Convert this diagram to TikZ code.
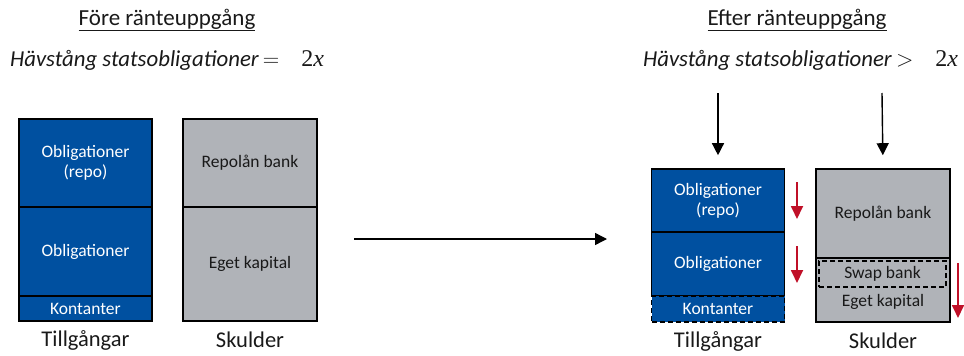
\RequirePackage{fix-cm}
\documentclass[tikz,border=0pt]{standalone}
\usepackage{fontspec}
\setmainfont{Carlito}
\newfontfamily\mathlike{Liberation Serif}
\usetikzlibrary{arrows.meta}
\definecolor{assetblue}{RGB}{0,80,160}
\definecolor{liabgray}{RGB}{176,179,184}
\definecolor{downred}{RGB}{192,16,40}
\definecolor{ink}{RGB}{25,25,25}
\newcommand{\twox}{{\mathlike\fontsize{24}{26}\selectfont 2\textit{x}}}
\tikzset{
  seg/.style={draw=black, line width=1.6pt, inner sep=0pt, align=center,
              font=\fontsize{17.5}{20}\selectfont},
  asset/.style={seg, fill=assetblue, text=white, minimum width=133pt},
  liab/.style={seg, fill=liabgray, text=ink, minimum width=134pt},
  dashseg/.style={dashed, dash pattern=on 5pt off 3pt},
  caption/.style={font=\fontsize{22.5}{26}\selectfont, text=ink},
  heading/.style={font=\fontsize{23}{26}\selectfont, text=ink},
  leverage/.style={font=\fontsize{22.8}{26}\selectfont, text=ink, anchor=west, inner sep=0pt},
  blackarrow/.style={line width=1.4pt, -{Triangle[length=12pt, width=12pt]}},
  redarrow/.style={draw=downred, line width=1.8pt, -{Triangle[length=13pt, width=12pt]}},
}
\begin{document}
\begin{tikzpicture}[x=1pt, y=-1pt]
\useasboundingbox (0,0) rectangle (964,356);

% ---- headings ----
\node[heading] (h1) at (167,20) {\underline{Före ränteuppgång}};
\node[leverage] (l1) at (10,60)
  {\textit{Hävstång statsobligationer}\hspace{4pt}$=$\hspace{22pt}\twox};
\node[heading] (h2) at (797,20) {\underline{Efter ränteuppgång}};
\node[leverage] (l2) at (643,60)
  {\textit{Hävstång statsobligationer}\hspace{4pt}$>$\hspace{22pt}\twox};

% ---- before: assets ----
\node[asset, minimum height=88pt] (a1) at (85.5,163) {Obligationer\\(repo)};
\node[asset, minimum height=89pt] (a2) at (85.5,251.5) {Obligationer};
\node[asset, minimum height=25pt] (a3) at (85.5,308.5) {Kontanter};
\node[caption] (c1) at (85.5,340) {Tillgångar};

% ---- before: liabilities ----
\node[liab, minimum height=88pt] (b1) at (250,163) {Repolån bank};
\node[liab, minimum height=114pt] (b2) at (250,264) {Eget kapital};
\node[caption] (c2) at (250,340) {Skulder};

% ---- transition arrow ----
\coordinate (t0) at (354,239);
\coordinate (t1) at (607,239);
\draw[blackarrow] (t0) -- (t1);

% ---- after: assets ----
\node[asset, minimum height=63pt] (ra1) at (718,200.5) {Obligationer\\(repo)};
\node[asset, minimum height=64pt] (ra2) at (718,264) {Obligationer};
\node[asset, minimum height=26pt, dashseg] (ra3) at (718,309) {Kontanter};
\node[caption] (c3) at (718,341) {Tillgångar};

% ---- after: liabilities ----
\node[liab, minimum height=89pt] (rb1) at (883,213.5) {Repolån bank};
\node[liab, minimum height=64pt] (rb2) at (883,290) {};
\node[seg, dashseg, minimum width=127pt, minimum height=26pt, text=ink] (rb3) at (882.5,274) {Swap bank};
\node[font=\fontsize{17.5}{20}\selectfont, text=ink, inner sep=0pt] (rb4) at (883,302) {Eget kapital};
\node[caption] (c4) at (883,341) {Skulder};

% ---- pressure arrows onto the after columns ----
\coordinate (p1) at (718,93);
\coordinate (p2) at (882,93);
\draw[blackarrow, shorten >=13pt] (p1) -- (ra1.north);
\draw[blackarrow, shorten >=13pt] (p2) -- (rb1.north);

% ---- value declines ----
\coordinate (d1a) at (797,182);
\coordinate (d1b) at (797,219);
\coordinate (d2a) at (797,246);
\coordinate (d2b) at (797,283);
\coordinate (d3a) at (958,263);
\coordinate (d3b) at (958,318);
\draw[redarrow] (d1a) -- (d1b);
\draw[redarrow] (d2a) -- (d2b);
\draw[redarrow] (d3a) -- (d3b);
\end{tikzpicture}
\end{document}
